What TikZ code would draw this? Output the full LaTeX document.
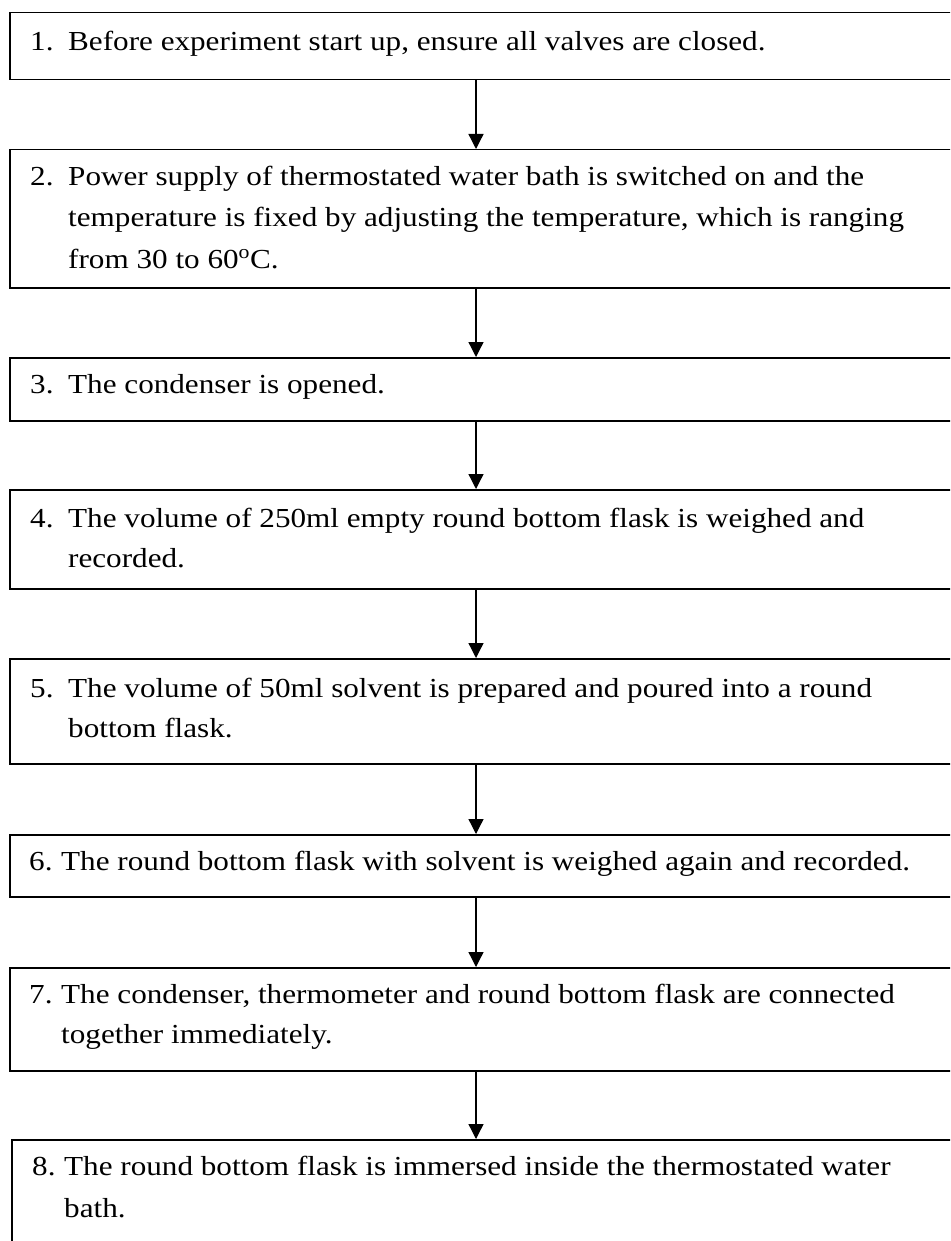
\documentclass[tikz,border=0pt]{standalone}
\usepackage{fontspec}
\setmainfont{Liberation Serif}[FakeStretch=1.133]
\usetikzlibrary{arrows.meta}
\begin{document}
\begin{tikzpicture}[x=1pt,y=1pt,
  stepbox/.style={draw=black, line width=1.5pt, rectangle, inner sep=0pt, anchor=north west, minimum width=960pt},
  txt/.style={anchor=base west, inner sep=0pt, font=\fontsize{27.5}{41}\selectfont},
  arr/.style={line width=1.3pt, -{Triangle[length=15pt,width=15pt]}}
]
\useasboundingbox (0,0) rectangle (950,-1241);
\clip (0,0) rectangle (950,-1241);
\fill[white] (0,0) rectangle (950,-1241);
\coordinate (ax) at (476,0);
% boxes
\node[stepbox, minimum height=67pt]  (b1) at (9,-12) {};
\node[stepbox, minimum height=138pt] (b2) at (9,-149) {};
\node[stepbox, minimum height=63pt]  (b3) at (9,-357) {};
\node[stepbox, minimum height=99pt]  (b4) at (9,-489) {};
\node[stepbox, minimum height=105pt] (b5) at (9,-658) {};
\node[stepbox, minimum height=62pt]  (b6) at (9,-834) {};
\node[stepbox, minimum height=103pt] (b7) at (9,-967) {};
\node[stepbox, minimum height=130pt] (b8) at (11,-1139) {};
% texts
\node[txt] (t1) at (30,-51) {\makebox[38pt][l]{1.}Before experiment start up, ensure all valves are closed.};
\node[txt] (t2a) at (30,-186) {\makebox[38pt][l]{2.}Power supply of thermostated water bath is switched on and the};
\node[txt] (t2b) at (68,-227) {temperature is fixed by adjusting the temperature, which is ranging};
\node[txt] (t2c) at (68,-268) {from 30 to 60\textsuperscript{o}C.};
\node[txt] (t3) at (30,-393) {\makebox[38pt][l]{3.}The condenser is opened.};
\node[txt] (t4a) at (30,-527) {\makebox[38pt][l]{4.}The volume of 250ml empty round bottom flask is weighed and};
\node[txt] (t4b) at (68,-567) {recorded.};
\node[txt] (t5a) at (30,-697) {\makebox[38pt][l]{5.}The volume of 50ml solvent is prepared and poured into a round};
\node[txt] (t5b) at (68,-737) {bottom flask.};
\node[txt] (t6) at (29,-870) {\makebox[32pt][l]{6.}The round bottom flask with solvent is weighed again and recorded.};
\node[txt] (t7a) at (29,-1003) {\makebox[32pt][l]{7.}The condenser, thermometer and round bottom flask are connected};
\node[txt] (t7b) at (61,-1043) {together immediately.};
\node[txt] (t8a) at (32,-1175) {\makebox[32pt][l]{8.}The round bottom flask is immersed inside the thermostated water};
\node[txt] (t8b) at (64,-1217) {bath.};
% arrows
\draw[arr] (b1.south -| ax) -- (b2.north -| ax);
\draw[arr] (b2.south -| ax) -- (b3.north -| ax);
\draw[arr] (b3.south -| ax) -- (b4.north -| ax);
\draw[arr] (b4.south -| ax) -- (b5.north -| ax);
\draw[arr] (b5.south -| ax) -- (b6.north -| ax);
\draw[arr] (b6.south -| ax) -- (b7.north -| ax);
\draw[arr] (b7.south -| ax) -- (b8.north -| ax);
\end{tikzpicture}
\end{document}
